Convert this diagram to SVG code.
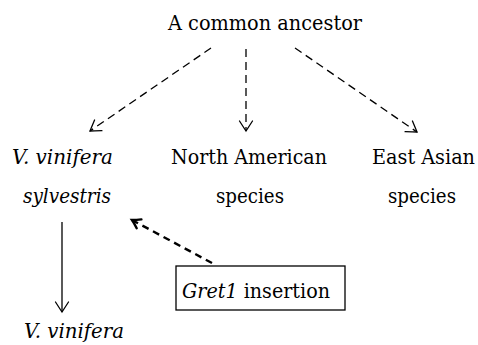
<svg xmlns="http://www.w3.org/2000/svg" width="478" height="345" viewBox="0 0 478 345">
  <style>
    text { font-family: 'DejaVu Serif', 'Liberation Serif', serif; font-size: 20px; fill: #000; }
    .it { font-style: italic; }
    .c { text-anchor: middle; }
    .thin { stroke: #000; stroke-width: 1.3; fill: none; }
    .dash { stroke-dasharray: 8 5; }
    .thick { stroke: #000; stroke-width: 2.4; fill: none; stroke-dasharray: 7 5; }
  </style>
  <defs>
    <marker id="to" markerUnits="userSpaceOnUse" markerWidth="24" markerHeight="24" viewBox="-12 -12 24 24" refX="0" refY="0" orient="auto" overflow="visible">
      <path d="M -10 -6.5 Q -3 -2 0 0 Q -3 2 -10 6.5" fill="none" stroke="#000" stroke-width="1.3" stroke-linecap="round"/>
    </marker>
    <marker id="toThick" markerUnits="userSpaceOnUse" markerWidth="24" markerHeight="24" viewBox="-12 -12 24 24" refX="0" refY="0" orient="auto" overflow="visible">
      <path d="M -8 -5 Q -3 -1.5 0 0 Q -3 1.5 -8 5" fill="none" stroke="#000" stroke-width="2.4" stroke-linecap="round"/>
    </marker>
  </defs>

  <g id="connectors">
    <line class="thin dash" x1="211" y1="48" x2="90" y2="131" marker-end="url(#to)"/>
    <line class="thin dash" x1="246" y1="49" x2="246" y2="131" marker-end="url(#to)"/>
    <line class="thin dash" x1="295" y1="48" x2="417" y2="132" marker-end="url(#to)"/>
    <line class="thin" x1="62" y1="222" x2="62" y2="312" marker-end="url(#to)"/>
    <line class="thick" x1="212" y1="263" x2="132" y2="220" marker-end="url(#toThick)"/>
  </g>

  <g id="ancestor">
    <text class="c" x="265" y="30" textLength="194" lengthAdjust="spacingAndGlyphs">A common ancestor</text>
  </g>
  <g id="sylvestris">
    <text class="c it" x="62.5" y="164" textLength="101" lengthAdjust="spacingAndGlyphs">V. vinifera</text>
    <text class="c it" x="67" y="203" textLength="88" lengthAdjust="spacingAndGlyphs">sylvestris</text>
  </g>
  <g id="north-american">
    <text class="c" x="249" y="164" textLength="156" lengthAdjust="spacingAndGlyphs">North American</text>
    <text class="c" x="250" y="203" textLength="68" lengthAdjust="spacingAndGlyphs">species</text>
  </g>
  <g id="east-asian">
    <text class="c" x="423.5" y="164" textLength="103" lengthAdjust="spacingAndGlyphs">East Asian</text>
    <text class="c" x="422" y="203" textLength="68" lengthAdjust="spacingAndGlyphs">species</text>
  </g>
  <g id="vinifera">
    <text class="c it" x="74" y="338" textLength="100" lengthAdjust="spacingAndGlyphs">V. vinifera</text>
  </g>
  <g id="gret1">
    <rect x="176" y="266" width="169" height="44" fill="#fff" stroke="#000" stroke-width="1.3"/>
    <text x="182" y="298" textLength="148" lengthAdjust="spacingAndGlyphs"><tspan class="it">Gret1</tspan> insertion</text>
  </g>
</svg>
